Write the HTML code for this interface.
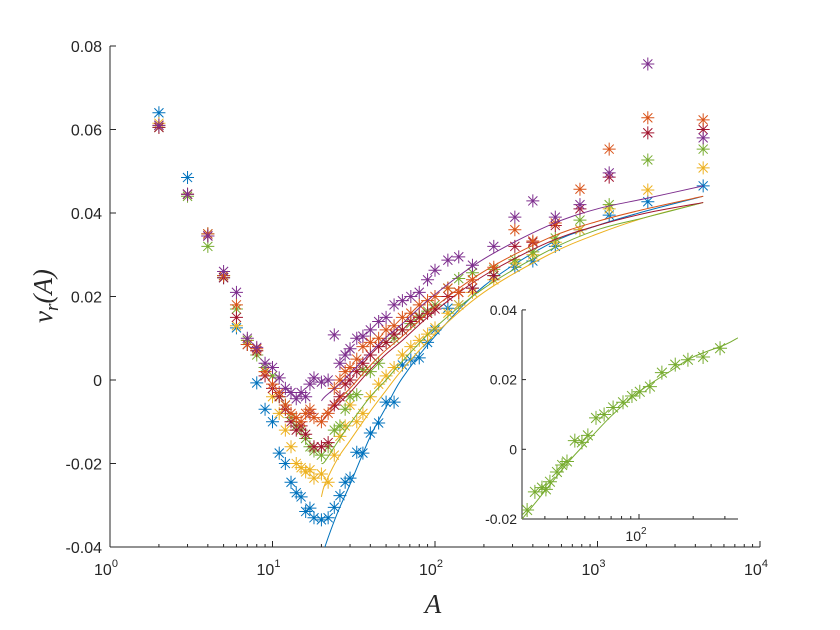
<!DOCTYPE html>
<html><head><meta charset="utf-8"><style>
html,body{margin:0;padding:0;background:#fff;}
svg{display:block;font-family:"Liberation Sans",sans-serif;}
</style></head><body>
<svg id="chart" width="840" height="630" viewBox="0 0 840 630" xmlns="http://www.w3.org/2000/svg">
<rect width="840" height="630" fill="#fff"/>
<defs>
<clipPath id="mainclip"><rect x="110" y="46" width="650" height="501"/></clipPath>
<clipPath id="insetclip"><rect x="522" y="310" width="216" height="209"/></clipPath>
</defs>
<g id="main"></g>
<g id="inset"></g>
<text transform="translate(52,296) rotate(-90)" text-anchor="middle" font-family="Liberation Serif,serif" font-style="italic" font-size="27" fill="#262626">v<tspan font-size="19" dy="6">r</tspan><tspan dy="-6">(A)</tspan></text>
<text x="433" y="613" text-anchor="middle" font-family="Liberation Serif,serif" font-style="italic" font-size="27" fill="#262626">A</text>
</svg>
<script>
const A = [2,3,4,5,6,7,8,9,10,11,12,13,14,15,16,17,18,20,22,24,26,28,30,33,36,40,45,50,56,63,71,80,90,100,120,140,170,230,310,400,550,780,1180,2040,4470];
const blueVals = [.064,.0485,.035,.0245,.0125,.0085,-.0007,-.007,-.010,-.0175,-.020,-.0245,-.027,-.028,-.0315,-.0307,-.033,-.0335,-.033,-.0305,-.0277,-.0245,-.0235,-.0173,-.0175,-.0127,-.0103,-.0053,-.0053,.0036,.0048,.0053,.009,.012,.0172,.018,.022,.025,.027,.0285,.032,.036,.0395,.0427,.0465];
const yellowVals = [.0615,.0445,.035,.025,.013,.0095,.007,.002,-.004,-.008,-.012,-.016,-.020,-.021,-.022,-.0215,-.0235,-.0225,-.0245,-.018,-.0135,-.011,-.006,-.010,-.008,-.004,-.001,.001,.003,.006,.008,.0095,.011,.0125,.016,.018,.021,.024,.028,.030,.033,.036,.041,.0455,.0508];
const greenVals = [.0605,.044,.032,.025,.017,.0095,.006,.003,.001,-.004,-.006,-.009,-.011,-.012,-.014,-.016,-.017,-.018,-.016,-.012,-.011,-.007,-.004,-.0035,.0025,.002,.004,.009,.010,.012,.0135,.0153,.0165,.018,.022,.0243,.0257,.0265,.0288,.0307,.034,.0383,.042,.0527,.0553];
const redVals = [.0605,.0445,.0345,.0245,.015,.0085,.007,.001,-.002,-.004,-.007,-.010,-.012,-.011,-.013,-.008,-.016,-.016,-.015,-.006,-.004,-.001,.000,.002,.004,.006,.008,.009,.011,.012,.014,.015,.016,.017,.020,.021,.022,.025,.032,.033,.037,.041,.0486,.0592,.060];
const orangeVals = [.061,.0445,.035,.025,.018,.0085,.0075,.002,-.001,-.003,-.006,-.008,-.009,-.010,-.008,-.007,-.009,-.010,-.008,-.002,.000,.002,.003,.005,.008,.009,.010,.012,.013,.015,.016,.018,.019,.020,.022,.021,.024,.027,.036,.0333,.0376,.0457,.0553,.0628,.0623];
const purpleVals = [.061,.0445,.0345,.026,.021,.010,.0078,.004,.003,.0005,-.002,-.003,-.0045,-.003,-.004,-.001,.0005,-.0005,0,.0108,.004,.006,.0075,.010,.0105,.012,.014,.015,.018,.019,.020,.021,.024,.0263,.0287,.0295,.0275,.032,.039,.0429,.039,.042,.0496,.0757,.058];
const fitA = [20,21,25,30,40,50,63,100,200,500,1000,2000,4470];
const blueFit = [-.043,-.040,-.032,-.025,-.0135,-.0065,.0005,.0105,.0225,.0325,.037,.0405,.044];
const yellowFit = [-.028,-.025,-.019,-.0145,-.0075,-.0025,.0025,.011,.021,.030,.035,.039,.0425];
const greenFit = [-.020,-.0195,-.015,-.0105,-.004,.000,.0045,.0125,.022,.031,.036,.039,.0425];
const redFit = [-.010,-.009,-.006,-.003,.0025,.0062,.0095,.0165,.025,.033,.037,.040,.0425];
const orangeFit = [-.009,-.008,-.005,-.002,.0035,.0072,.0105,.0175,.026,.034,.038,.041,.044];
const purpleFit = [-.005,-.004,-.0015,.0015,.0065,.0102,.0135,.0205,.029,.037,.041,.0435,.0465];
const insetA = [23.9,26.4,28.9,30.4,32,35,37.4,39.8,44,48.2,52,57.7,64,71.8,81.5,91.4,101,115,134,159,187,227,282];
const insetVals = [-.0174,-.0122,-.011,-.0115,-.0093,-.0065,-.0045,-.0035,.0025,.002,.004,.009,.010,.012,.0135,.0153,.0165,.018,.022,.0243,.0257,.0265,.029];
const insetFitA = [22.4,30,40,50,70,100,150,200,300,355];
const insetFitVals = [-.020,-.012,-.004,.0015,.0095,.0165,.0225,.0265,.030,.032];
const yTicks = [-0.04,-0.02,0,0.02,0.04,0.06,0.08];
const yTickLabels = ["-0.04","-0.02","0","0.02","0.04","0.06","0.08"];
const xDecades = [0,1,2,3,4];
const insetYTicks = [-0.02,0,0.02,0.04];
const insetYLabels = ["-0.02","0","0.02","0.04"];

const NS="http://www.w3.org/2000/svg";
function mk(tag,attrs,parent){const e=document.createElementNS(NS,tag);for(const k in attrs)e.setAttribute(k,attrs[k]);parent.appendChild(e);return e;}
const X=a=>110+162.5*Math.log10(a);
const Y=v=>380-v*4175;
const IX=a=>522+180*(Math.log10(a)-1.35);
const IY=v=>449.3-v*3485;
function smoothPath(pts){
  let d=`M${pts[0][0]} ${pts[0][1]}`;
  for(let i=0;i<pts.length-1;i++){
    const p0=pts[Math.max(0,i-1)],p1=pts[i],p2=pts[i+1],p3=pts[Math.min(pts.length-1,i+2)];
    const c1x=p1[0]+(p2[0]-p0[0])/6,c1y=p1[1]+(p2[1]-p0[1])/6;
    const c2x=p2[0]-(p3[0]-p1[0])/6,c2y=p2[1]-(p3[1]-p1[1])/6;
    d+=`C${c1x} ${c1y} ${c2x} ${c2y} ${p2[0]} ${p2[1]}`;
  }
  return d;
}

const main=document.getElementById('main');
const inset=document.getElementById('inset');
const tc="#262626";

let ax=mk('line',{x1:110,y1:547,x2:760,y2:547,stroke:tc,'stroke-width':1},main);


ax=mk('line',{x1:110,y1:46,x2:110,y2:547,stroke:tc,'stroke-width':1},main);


yTicks.forEach((v,i)=>{
  mk('line',{x1:110,y1:Y(v),x2:116,y2:Y(v),stroke:tc},main);
  const t=mk('text',{x:102,y:Y(v)+6,'text-anchor':'end','font-size':16,fill:tc},main);
  t.textContent=yTickLabels[i];
  
  
});
xDecades.forEach(d=>{
  const x=110+162.5*d;
  mk('line',{x1:x,y1:547,x2:x,y2:541,stroke:tc},main);
  const t=mk('text',{x:x-4,y:575,'text-anchor':'middle','font-size':16,fill:tc},main);
  t.textContent='10';
  const s=mk('tspan',{'font-size':11,dy:-8},t);s.textContent=String(d);
  
  
  if(d<4)for(let m=2;m<10;m++){const xm=X(m*Math.pow(10,d));mk('line',{x1:xm,y1:547,x2:xm,y2:544,stroke:tc},main);}
});

const series=[
 ['blue','#0072BD',blueVals,blueFit],
 ['yellow','#EDB120',yellowVals,yellowFit],
 ['green','#77AC30',greenVals,greenFit],
 ['red','#A2142F',redVals,redFit],
 ['orange','#D95319',orangeVals,orangeFit],
 ['purple','#7E2F8E',purpleVals,purpleFit]];
function star(g,x,y,c,r){
  const d=r*0.7;
  mk('path',{d:`M${x-r} ${y}H${x+r}M${x} ${y-r}V${y+r}M${x-d} ${y-d}L${x+d} ${y+d}M${x-d} ${y+d}L${x+d} ${y-d}`,stroke:c,'stroke-width':1,fill:'none'},g);
}
const plot=mk('g',{'clip-path':'url(#mainclip)'},main);
series.forEach(([n,c,vals,fit])=>{
  const g=mk('g',{},plot);
  
  
  const p=mk('path',{d:smoothPath(fitA.map((a,i)=>[X(a),Y(fit[i])])),fill:'none',stroke:c,'stroke-width':1},g);
  
  
  A.forEach((a,i)=>star(g,X(a),Y(vals[i]),c,6.5));
});

const bg=mk('rect',{x:522,y:305,width:225,height:214,fill:'#fff'},inset);


ax=mk('line',{x1:522,y1:519,x2:738,y2:519,stroke:tc},inset);


ax=mk('line',{x1:522,y1:310,x2:522,y2:519,stroke:tc},inset);


insetYTicks.forEach((v,i)=>{
  mk('line',{x1:522,y1:IY(v),x2:526,y2:IY(v),stroke:tc},inset);
  const t=mk('text',{x:517,y:IY(v)+5,'text-anchor':'end','font-size':14,fill:tc},inset);
  t.textContent=insetYLabels[i];
  
  
});
[30,40,50,60,70,80,90,100,200,300].forEach(a=>{const x=IX(a);mk('line',{x1:x,y1:519,x2:x,y2:a===100?514:516,stroke:tc},inset);});
const it=mk('text',{x:IX(100)-3,y:541,'text-anchor':'middle','font-size':14,fill:tc},inset);
it.textContent='10';
const its=mk('tspan',{'font-size':10,dy:-7},it);its.textContent='2';


const ig=mk('g',{'clip-path':'url(#insetclip)'},inset);


const ip=mk('path',{d:smoothPath(insetFitA.map((a,i)=>[IX(a),IY(insetFitVals[i])])),fill:'none',stroke:'#77AC30','stroke-width':1},ig);


insetA.forEach((a,i)=>star(ig,IX(a),IY(insetVals[i]),'#77AC30',7));
</script>
</body></html>
